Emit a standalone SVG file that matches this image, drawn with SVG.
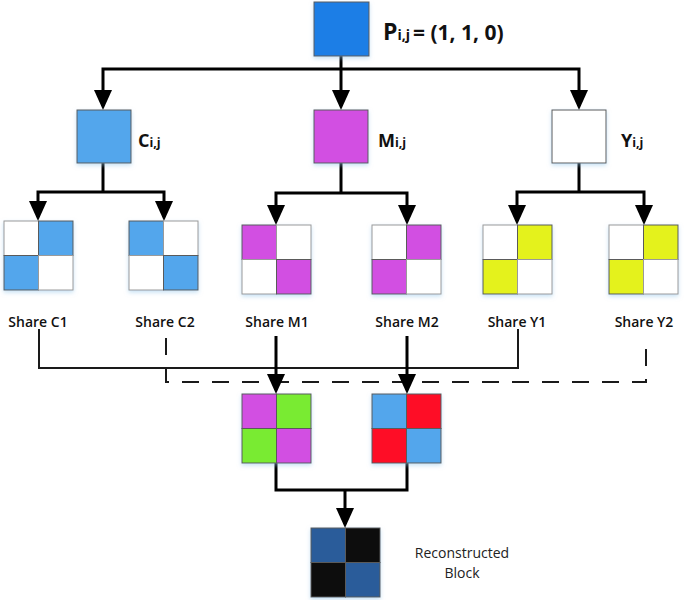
<svg xmlns="http://www.w3.org/2000/svg" width="685" height="600" viewBox="0 0 685 600">
<style>
.bg{fill:#ffffff}
.cell{stroke:#5a5a5a;stroke-width:1}
.w{fill:#ffffff;stroke:#9a9a9a}
.cb{fill:#52a6ec}
.mg{fill:#d24fe2}
.yl{fill:#e4f21c}
.gr{fill:#79eb33}
.rd{fill:#fe0a26}
.db{fill:#2b5c9a}
.bk{fill:#070707}
.box{stroke:#5a5a5a;stroke-width:1}
.ln{fill:none;stroke:#000;stroke-width:3}
.thin{fill:none;stroke:#1a1a1a;stroke-width:2}
.dash{fill:none;stroke:#1a1a1a;stroke-width:2;stroke-dasharray:17 13}
.lab{font-family:"Open Sans","Liberation Sans",sans-serif;font-weight:bold;fill:#111}
.share{font-family:"Open Sans","Liberation Sans",sans-serif;font-weight:600;font-size:14px;fill:#111;text-anchor:middle}
.rec{font-family:"Open Sans","Liberation Sans",sans-serif;font-size:14px;fill:#222;text-anchor:middle}
</style>
<defs>
<marker id="ah" viewBox="0 -9 20 18" refX="16" refY="0" markerWidth="20" markerHeight="18" markerUnits="userSpaceOnUse" orient="auto">
<path d="M0,-9 L20,0 L0,9 z" fill="#000"/>
</marker>
<filter id="sh" x="-20%" y="-20%" width="140%" height="150%">
<feDropShadow dx="0" dy="2" stdDeviation="2" flood-color="#8fc3ea" flood-opacity="0.5"/>
</filter>
</defs>
<rect class="bg" x="0" y="0" width="685" height="600"/>

<g id="connectors">
<path class="ln" d="M341,56 V69"/>
<path class="ln" d="M341,69 H103 V106" marker-end="url(#ah)"/>
<path class="ln" d="M341,69 V106" marker-end="url(#ah)"/>
<path class="ln" d="M341,69 H579 V106" marker-end="url(#ah)"/>
<path class="ln" d="M103,163 V192"/>
<path class="ln" d="M103,192 H38 V217" marker-end="url(#ah)"/>
<path class="ln" d="M103,192 H164 V217" marker-end="url(#ah)"/>
<path class="ln" d="M341,163 V193"/>
<path class="ln" d="M341,193 H276 V221" marker-end="url(#ah)"/>
<path class="ln" d="M341,193 H407 V221" marker-end="url(#ah)"/>
<path class="ln" d="M579,163 V192"/>
<path class="ln" d="M579,192 H517 V221" marker-end="url(#ah)"/>
<path class="ln" d="M579,192 H644 V221" marker-end="url(#ah)"/>
<path class="thin" d="M39,329 V368 H518 V329"/>
<path class="dash" d="M166,338 V382 H646 V338"/>
<path class="ln" d="M276,336 V390" marker-end="url(#ah)"/>
<path class="ln" d="M407,336 V390" marker-end="url(#ah)"/>
<path class="ln" d="M276,462 V490 H407 V462"/>
<path class="ln" d="M345,490 V524" marker-end="url(#ah)"/>
</g>

<g id="P">
<rect class="box" x="314" y="2" width="55" height="54" fill="#1e7ee6" filter="url(#sh)"/>
<text class="lab" x="383" y="40"><tspan font-size="23">P</tspan><tspan font-size="14">i,j</tspan><tspan font-size="21" dx="3">= (1, 1, 0)</tspan></text>
</g>

<g id="C">
<rect class="box cb" x="77" y="110" width="54" height="53" filter="url(#sh)"/>
<text class="lab" x="138" y="147"><tspan font-size="18">C</tspan><tspan font-size="12.5">i,j</tspan></text>
</g>
<g id="M">
<rect class="box mg" x="314" y="110" width="54" height="53" filter="url(#sh)"/>
<text class="lab" x="378" y="147"><tspan font-size="18">M</tspan><tspan font-size="12.5">i,j</tspan></text>
</g>
<g id="Y">
<rect class="box" x="552" y="110" width="54" height="53" fill="#ffffff" stroke="#9a9a9a" filter="url(#sh)"/>
<text class="lab" x="621" y="147"><tspan font-size="18">Y</tspan><tspan font-size="12.5">i,j</tspan></text>
</g>

<g id="shareC1" filter="url(#sh)">
<rect class="cell w" x="4" y="221" width="34.5" height="34.5"/>
<rect class="cell cb" x="38.5" y="221" width="34.5" height="34.5"/>
<rect class="cell cb" x="4" y="255.5" width="34.5" height="34.5"/>
<rect class="cell w" x="38.5" y="255.5" width="34.5" height="34.5"/>
</g>
<g id="shareC2" filter="url(#sh)">
<rect class="cell cb" x="129" y="221" width="34.5" height="34.5"/>
<rect class="cell w" x="163.5" y="221" width="34.5" height="34.5"/>
<rect class="cell w" x="129" y="255.5" width="34.5" height="34.5"/>
<rect class="cell cb" x="163.5" y="255.5" width="34.5" height="34.5"/>
</g>
<g id="shareM1" filter="url(#sh)">
<rect class="cell mg" x="242" y="225" width="34.5" height="34.5"/>
<rect class="cell w" x="276.5" y="225" width="34.5" height="34.5"/>
<rect class="cell w" x="242" y="259.5" width="34.5" height="34.5"/>
<rect class="cell mg" x="276.5" y="259.5" width="34.5" height="34.5"/>
</g>
<g id="shareM2" filter="url(#sh)">
<rect class="cell w" x="372" y="225" width="34.5" height="34.5"/>
<rect class="cell mg" x="406.5" y="225" width="34.5" height="34.5"/>
<rect class="cell mg" x="372" y="259.5" width="34.5" height="34.5"/>
<rect class="cell w" x="406.5" y="259.5" width="34.5" height="34.5"/>
</g>
<g id="shareY1" filter="url(#sh)">
<rect class="cell w" x="483" y="225" width="34.5" height="34.5"/>
<rect class="cell yl" x="517.5" y="225" width="34.5" height="34.5"/>
<rect class="cell yl" x="483" y="259.5" width="34.5" height="34.5"/>
<rect class="cell w" x="517.5" y="259.5" width="34.5" height="34.5"/>
</g>
<g id="shareY2" filter="url(#sh)">
<rect class="cell w" x="609" y="225" width="34.5" height="34.5"/>
<rect class="cell yl" x="643.5" y="225" width="34.5" height="34.5"/>
<rect class="cell yl" x="609" y="259.5" width="34.5" height="34.5"/>
<rect class="cell w" x="643.5" y="259.5" width="34.5" height="34.5"/>
</g>

<g id="labels">
<text class="share" x="38" y="327">Share C1</text>
<text class="share" x="165" y="327">Share C2</text>
<text class="share" x="277" y="327">Share M1</text>
<text class="share" x="407" y="327">Share M2</text>
<text class="share" x="517" y="327">Share Y1</text>
<text class="share" x="644" y="327">Share Y2</text>
</g>

<g id="combinedMY" filter="url(#sh)">
<rect class="cell mg" x="242" y="394" width="34.5" height="34.5"/>
<rect class="cell gr" x="276.5" y="394" width="34.5" height="34.5"/>
<rect class="cell gr" x="242" y="428.5" width="34.5" height="34.5"/>
<rect class="cell mg" x="276.5" y="428.5" width="34.5" height="34.5"/>
</g>
<g id="combinedCR" filter="url(#sh)">
<rect class="cell cb" x="372" y="394" width="34.5" height="34.5"/>
<rect class="cell rd" x="406.5" y="394" width="34.5" height="34.5"/>
<rect class="cell rd" x="372" y="428.5" width="34.5" height="34.5"/>
<rect class="cell cb" x="406.5" y="428.5" width="34.5" height="34.5"/>
</g>

<g id="reconstructed" filter="url(#sh)">
<rect class="cell db" x="311" y="528" width="34.5" height="34.5"/>
<rect class="cell bk" x="345.5" y="528" width="34.5" height="34.5"/>
<rect class="cell bk" x="311" y="562.5" width="34.5" height="34.5"/>
<rect class="cell db" x="345.5" y="562.5" width="34.5" height="34.5"/>
</g>
<g id="reconstructedLabel">
<text class="rec" x="462" y="558">Reconstructed</text>
<text class="rec" x="462" y="578">Block</text>
</g>
</svg>
